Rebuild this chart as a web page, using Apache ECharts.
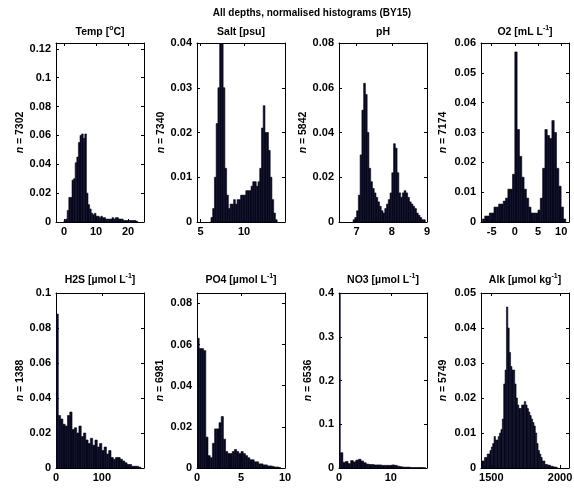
<!DOCTYPE html>
<html><head><meta charset="utf-8">
<script src="https://cdn.jsdelivr.net/npm/echarts@6/dist/echarts.min.js"></script>
<style>html,body{margin:0;padding:0;background:#fff}#c{width:574px;height:488px}</style>
</head><body><div id="c"></div>
<script>
// ---------- DATA ----------
const mainTitle = 'All depths, normalised histograms (BY15)';
const panelTitles = ['Temp [{s|o}C]', 'Salt [psu]', 'pH', 'O2 [mL L{s|-1}]',
  'H2S [\u00b5mol L{s|-1}]', 'PO4 [\u00b5mol L{s|-1}]', 'NO3 [\u00b5mol L{s|-1}]', 'Alk [\u00b5mol kg{s|-1}]'];
const sampleCounts = ['7302', '7340', '5842', '7174', '1388', '6981', '6536', '5749'];

const tempStart = 0, tempWidth = 0.5;
const tempValues = [0.001,0.002,0.008,0.017,0.017,0.029,0.030,0.041,0.045,0.055,0.060,0.061,0.058,0.061,0.020,0.012,0.009,0.006,0.005,0.006,0.004,0.004,0.003,0.004,0.003,0.003,0.002,0.002,0.002,0.002,0.003,0.002,0.003,0.003,0.002,0.002,0.002,0.001,0.001,0.001,0.001,0.001,0.001,0.001,0.001,0.0005];

const saltStart = 6.2, saltWidth = 0.2;
const saltValues = [0.001,0.003,0.010,0.022,0.030,0.045,0.045,0.030,0.012,0.006,0.003,0.004,0.004,0.005,0.004,0.005,0.005,0.006,0.006,0.006,0.007,0.007,0.007,0.008,0.009,0.009,0.008,0.009,0.012,0.021,0.026,0.020,0.020,0.016,0.010,0.005,0.002,0.0005];

const phStart = 6.9, phWidth = 0.05;
const phValues = [0.001,0.002,0.005,0.012,0.030,0.050,0.062,0.057,0.040,0.024,0.018,0.015,0.013,0.011,0.009,0.007,0.005,0.004,0.006,0.008,0.010,0.013,0.022,0.035,0.033,0.022,0.013,0.011,0.013,0.014,0.013,0.011,0.009,0.008,0.007,0.006,0.004,0.003,0.002,0.001,0.001];

const o2Start = -7.0, o2Width = 0.5;
const o2Values = [0.001,0.002,0.002,0.003,0.003,0.005,0.005,0.006,0.006,0.007,0.008,0.011,0.011,0.016,0.057,0.031,0.022,0.015,0.011,0.008,0.005,0.003,0.003,0.003,0.004,0.008,0.018,0.031,0.029,0.028,0.034,0.030,0.018,0.012,0.005,0.001];

const h2sStart = 0, h2sWidth = 5;
const h2sValues = [0.088,0.030,0.028,0.025,0.024,0.030,0.032,0.022,0.023,0.020,0.024,0.018,0.020,0.016,0.014,0.017,0.013,0.016,0.012,0.014,0.010,0.012,0.008,0.010,0.006,0.005,0.006,0.006,0.005,0.004,0.003,0.002,0.002,0.001,0.001,0.001,0.0005];

const po4Start = 0, po4Width = 0.25;
const po4Values = [0.063,0.058,0.058,0.057,0.015,0.006,0.005,0.012,0.019,0.019,0.022,0.025,0.014,0.008,0.007,0.007,0.008,0.009,0.008,0.007,0.008,0.007,0.006,0.005,0.004,0.004,0.003,0.003,0.002,0.002,0.0015,0.0015,0.001,0.001,0.0008,0.0005,0.0005,0.0003];

const no3Start = -0.25, no3Width = 0.5;
const no3Values = [0.40,0.035,0.013,0.015,0.010,0.017,0.014,0.018,0.020,0.016,0.012,0.009,0.008,0.008,0.007,0.007,0.007,0.006,0.006,0.006,0.006,0.007,0.006,0.004,0.003,0.002,0.002,0.002,0.001,0.001,0.001,0.001,0.001,0.0005];

const alkStart = 1420, alkWidth = 10;
const alkValues = [0.002,0.002,0.002,0.003,0.003,0.004,0.004,0.005,0.006,0.007,0.009,0.008,0.008,0.009,0.010,0.011,0.014,0.024,0.028,0.046,0.040,0.033,0.029,0.028,0.028,0.024,0.020,0.018,0.017,0.017,0.018,0.018,0.019,0.018,0.017,0.016,0.015,0.014,0.013,0.012,0.010,0.007,0.005,0.004,0.003,0.002,0.002,0.001,0.001,0.0008,0.0008,0.0005,0.0005,0.0003,0.0003,0.0002];

// axis ranges and tick labels
const xRanges = [[-2.5,25],[4.6,14.7],[6.5,9],[-7.3,11.7],[0,192],[0,10],[0,17],[1425,2065]];
const xTicks = [[0,10,20],[5,10],[7,8,9],[-5,0,5,10],[0,100],[0,5,10],[0,10],[1500,2000]];
const yMax = [0.124,0.04,0.08,0.06,0.1,0.085,0.4,0.05];
const yTicks = [[0,0.02,0.04,0.06,0.08,0.1,0.12],[0,0.01,0.02,0.03,0.04],[0,0.02,0.04,0.06,0.08],
  [0,0.01,0.02,0.03,0.04,0.05,0.06],[0,0.02,0.04,0.06,0.08,0.1],[0,0.02,0.04,0.06,0.08],
  [0,0.1,0.2,0.3,0.4],[0,0.01,0.02,0.03,0.04,0.05]];

const hists = [
  [tempStart,tempWidth,tempValues],[saltStart,saltWidth,saltValues],[phStart,phWidth,phValues],[o2Start,o2Width,o2Values],
  [h2sStart,h2sWidth,h2sValues],[po4Start,po4Width,po4Values],[no3Start,no3Width,no3Values],[alkStart,alkWidth,alkValues]];

// ---------- LAYOUT / STYLE ----------
const F = '"Liberation Sans", Arial, Helvetica, sans-serif';
const BAR = '#08081f';
const colLeft = [56, 197, 339, 481];
const boxW = 88;
const rowTop = [43, 293];
const rowH = [179, 175];
const nameGaps = [30, 25, 30, 32, 29, 31, 25, 32];

function renderItem(params, api) {
  const a = api.coord([api.value(0), 0]);
  const b = api.coord([api.value(1), api.value(2)]);
  return { type: 'rect', shape: { x: a[0], y: b[1], width: b[0] - a[0], height: a[1] - b[1] },
    style: { fill: BAR, stroke: BAR, lineWidth: 0.6 } };
}
const fmt = v => String(v);
const lbl = { fontSize: 11, fontWeight: 'bold', color: '#000', fontFamily: F };
const line = { show: true, onZero: false, lineStyle: { color: '#000', width: 1 } };

const grid = [], xAxis = [], yAxis = [], series = [];
const title = [{
  text: mainTitle, left: 312, top: 7, textAlign: 'center', padding: 0,
  textStyle: { fontSize: 10, fontWeight: 'bold', fontFamily: F, color: '#000', lineHeight: 12 }
}];

for (let i = 0; i < 8; i++) {
  const r = Math.floor(i / 4), c = i % 4;
  grid.push({ left: colLeft[c], top: rowTop[r], width: boxW, height: rowH[r], containLabel: false, outerBoundsMode: 'none' });
  title.push({
    text: panelTitles[i], left: colLeft[c] + boxW / 2, top: r === 0 ? 25 : 273, textAlign: 'center', padding: 0,
    textStyle: { fontSize: 10.5, fontWeight: 'bold', fontFamily: F, color: '#000', lineHeight: 14,
      rich: { s: { fontSize: 7, fontWeight: 'bold', fontFamily: F, color: '#000', verticalAlign: 'top' } } }
  });
  const [xmin, xmax] = xRanges[i];
  xAxis.push({ type: 'value', gridIndex: i, position: 'bottom', min: xmin, max: xmax, splitLine: { show: false },
    axisLine: line, axisTick: { inside: true, length: 3, customValues: xTicks[i], lineStyle: { color: '#000' } },
    axisLabel: Object.assign({ margin: 4, customValues: xTicks[i], formatter: fmt }, lbl) });
  xAxis.push({ type: 'value', gridIndex: i, position: 'top', min: xmin, max: xmax, splitLine: { show: false },
    axisLine: line, axisTick: { inside: true, length: 3, customValues: xTicks[i], lineStyle: { color: '#000' } },
    axisLabel: { show: false } });
  yAxis.push({ type: 'value', gridIndex: i, position: 'left', min: 0, max: yMax[i], splitLine: { show: false },
    axisLine: line, axisTick: { inside: true, length: 3, customValues: yTicks[i], lineStyle: { color: '#000' } },
    axisLabel: Object.assign({ margin: 5, customValues: yTicks[i], formatter: fmt }, lbl),
    name: '{i|n} = ' + sampleCounts[i], nameLocation: 'middle', nameRotate: 90, nameGap: nameGaps[i],
    nameTextStyle: { fontSize: 10.5, fontWeight: 'bold', color: '#000', fontFamily: F,
      rich: { i: { fontStyle: 'italic', fontWeight: 'bold', fontSize: 10.5, color: '#000', fontFamily: F } } } });
  yAxis.push({ type: 'value', gridIndex: i, position: 'right', min: 0, max: yMax[i], splitLine: { show: false },
    axisLine: line, axisTick: { inside: true, length: 3, customValues: yTicks[i], lineStyle: { color: '#000' } },
    axisLabel: { show: false } });
  const [s0, w, vals] = hists[i];
  series.push({ type: 'custom', xAxisIndex: 2 * i, yAxisIndex: 2 * i, clip: true, silent: true,
    encode: { x: [0, 1], y: 2 }, renderItem,
    data: vals.map((v, k) => [s0 + k * w, s0 + (k + 1) * w, v]) });
}

const chart = echarts.init(document.getElementById('c'), null, { renderer: 'canvas' });
chart.setOption({ animation: false, backgroundColor: '#fff', title, grid, xAxis, yAxis, series });
</script></body></html>
